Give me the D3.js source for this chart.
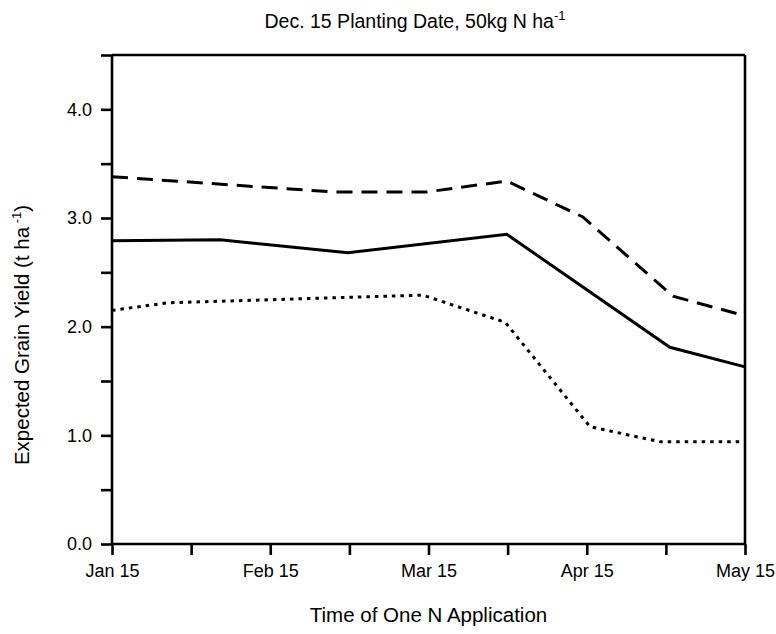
<!DOCTYPE html>
<html>
<head>
<meta charset="utf-8">
<script src="https://cdn.jsdelivr.net/npm/d3@7"></script>
<style>
  html, body { margin: 0; padding: 0; background: #fff; }
  svg { display: block; }
  text { font-family: "Liberation Sans", Arial, Helvetica, sans-serif; fill: #000; }
</style>
</head>
<body>
<svg id="chart" width="776" height="634"></svg>
<script>
// ---- data (x in half-month steps after Jan 15) ----
const xTickLabels = ["Jan 15", "", "Feb 15", "", "Mar 15", "", "Apr 15", "", "May 15"];
const yTickValues = [0, 0.5, 1, 1.5, 2, 2.5, 3, 3.5, 4, 4.5];

const solidX  = [0, 1.365, 2.98, 4.99, 7.05, 8];
const solidY  = [2.79, 2.80, 2.68, 2.85, 1.81, 1.63];

const dashedX = [0, 2.79, 3.98, 4.99, 5.95, 7.09, 8];
const dashedY = [3.38, 3.24, 3.24, 3.34, 3.01, 2.28, 2.10];

const dottedX = [0, 0.71, 3.93, 4.97, 6.04, 6.93, 8];
const dottedY = [2.15, 2.22, 2.29, 2.04, 1.08, 0.94, 0.94];

// ---- layout ----
const svg = d3.select("#chart");
const m = { left: 112, right: 31, top: 55, bottom: 90 };
const W = 776, H = 634;
const iw = W - m.left - m.right, ih = H - m.top - m.bottom;

const x = d3.scaleLinear().domain([0, 8]).range([0, iw]);
const y = d3.scaleLinear().domain([0, 4.5]).range([ih, 0]);

const g = svg.append("g").attr("transform", `translate(${m.left},${m.top})`);

// frame (top and right)
g.append("line").attr("x1", 0).attr("x2", iw).attr("y1", 0).attr("y2", 0)
  .attr("stroke", "#000").attr("stroke-width", 2.6);
g.append("line").attr("x1", iw).attr("x2", iw).attr("y1", 0).attr("y2", ih)
  .attr("stroke", "#000").attr("stroke-width", 2.6);

// y axis
const yAxis = d3.axisLeft(y).tickValues(yTickValues).tickSize(11).tickPadding(9)
  .tickFormat(d => Number.isInteger(d) ? d.toFixed(1) : "");
const ya = g.append("g").call(yAxis);

// x axis
const xAxis = d3.axisBottom(x).tickValues(d3.range(9)).tickSize(11).tickPadding(9)
  .tickFormat(i => xTickLabels[i]);
const xa = g.append("g").attr("transform", `translate(0,${ih})`).call(xAxis);

[ya, xa].forEach(a => {
  a.select(".domain").attr("stroke-width", 2.6).attr("stroke", "#000");
  a.selectAll(".tick line").attr("stroke-width", 2.6).attr("stroke", "#000");
  a.selectAll(".tick text").attr("font-size", 18).style("font-family", '"Liberation Sans", Arial, sans-serif');
});
ya.select(".domain").attr("d", `M0,${ih}V0`);
xa.select(".domain").attr("d", `M0,0H${iw}`);

// lines
const line = d3.line().x(d => x(d[0])).y(d => y(d[1]));
function draw(xs, ys, dash) {
  g.append("path")
    .datum(d3.zip(xs, ys))
    .attr("fill", "none")
    .attr("stroke", "#000")
    .attr("stroke-width", 3)
    .attr("stroke-linejoin", "miter")
    .attr("stroke-dasharray", dash)
    .attr("d", line);
}
draw(solidX, solidY, null);
draw(dashedX, dashedY, "16,9");
draw(dottedX, dottedY, "3.5,5");

// title
const t = svg.append("text").attr("x", 415).attr("y", 28)
  .attr("text-anchor", "middle").attr("font-size", 19.5);
t.append("tspan").text("Dec. 15 Planting Date, 50kg N ha");
t.append("tspan").attr("font-size", 13).attr("dy", -8).text("-1");

// x axis title
svg.append("text").attr("x", m.left + iw / 2).attr("y", 622)
  .attr("text-anchor", "middle").attr("font-size", 20.5)
  .text("Time of One N Application");

// y axis title
const yt = svg.append("text")
  .attr("transform", `translate(29,335) rotate(-90)`)
  .attr("text-anchor", "middle").attr("font-size", 20.5);
yt.append("tspan").text("Expected Grain Yield (t ha");
yt.append("tspan").attr("font-size", 13).attr("dy", -8).text(" -1");
yt.append("tspan").attr("dy", 8).text(")");
</script>
</body>
</html>
